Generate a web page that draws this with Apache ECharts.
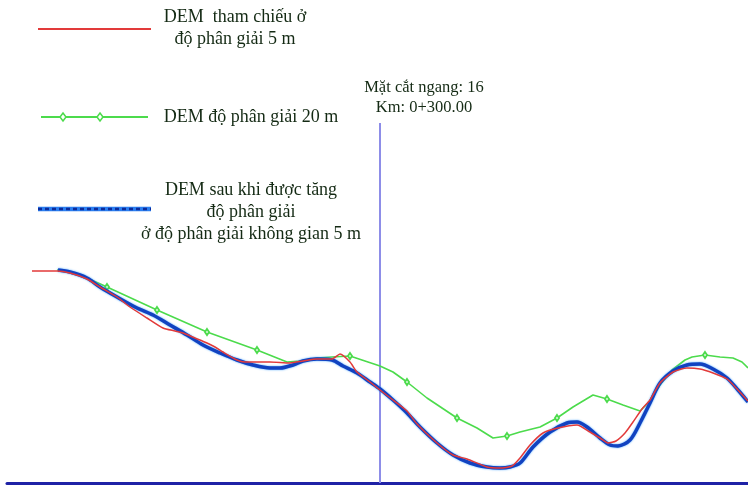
<!DOCTYPE html>
<html>
<head>
<meta charset="utf-8">
<script src="https://cdn.jsdelivr.net/npm/echarts@6/dist/echarts.min.js"></script>
<style>
  html, body { margin: 0; padding: 0; background: #fff; }
  #chart { width: 748px; height: 485px; }
</style>
</head>
<body>
<div id="chart"></div>
<script>
// Cross-section profile 16 (Km 0+300.00): distance along the section vs. elevation
const refName = 'DEM tham chiếu ở độ phân giải 5 m';
const lowName = 'DEM độ phân giải 20 m';
const upName = 'DEM sau khi được tăng độ phân giải ở độ phân giải không gian 5 m';

// Reference DEM, 5 m resolution
const refX = [25, 50, 63, 80, 93, 110, 123, 140, 156, 168, 176, 188, 200, 208, 216, 230, 238, 246, 263, 283, 296, 310, 325, 333, 343, 350, 363, 373, 386, 400, 410, 430, 446, 460, 480, 493, 505, 513, 523, 536, 551, 570, 583, 593, 601, 609, 618, 626, 635, 643, 653, 666, 680, 693, 706, 720, 731, 741];
const refY = [212, 212, 210, 204, 196, 186, 176, 165, 155, 152, 150, 145, 140, 136, 131, 123, 121, 121, 121, 120, 122, 124, 124, 129, 121, 111, 101, 93, 83, 72, 59, 40, 28, 24, 16, 15, 17, 25, 38, 50, 55, 58, 51, 45, 40, 42, 50, 61, 74, 83, 100, 111, 115, 114, 110, 104, 93, 82];

// Coarse DEM, 20 m resolution
const lowX = [50, 63, 80, 100, 150, 200, 250, 280, 293, 310, 325, 343, 373, 386, 400, 420, 450, 470, 486, 500, 513, 533, 550, 566, 586, 600, 616, 633, 643, 653, 665, 678, 685, 698, 713, 726, 735, 741];
const lowY = [213, 211, 205, 196, 173, 151, 133, 121, 122, 125, 126, 127, 117, 111, 101, 85, 65, 55, 45, 47, 51, 56, 65, 76, 88, 84, 78, 72, 82, 98, 113, 123, 126, 128, 126, 125, 121, 115];
// Grid nodes of the 20 m DEM that carry a marker
const lowNodes = [100, 150, 200, 250, 343, 400, 450, 500, 550, 600, 698];

// Upsampled DEM, 5 m spatial resolution
const upX = [51, 63, 80, 93, 110, 130, 146, 163, 180, 196, 213, 230, 246, 263, 273, 286, 296, 310, 325, 336, 350, 363, 373, 386, 400, 413, 430, 446, 463, 480, 493, 503, 513, 526, 543, 560, 570, 580, 593, 603, 611, 623, 633, 643, 653, 666, 680, 693, 706, 720, 731, 741];
const upY = [213, 211, 205, 196, 186, 175, 168, 158, 148, 138, 130, 123, 118, 115, 115, 118, 122, 124, 123, 117, 110, 101, 94, 83, 70, 56, 40, 28, 20, 16, 15, 16, 20, 36, 51, 60, 61, 56, 45, 38, 37, 43, 60, 80, 100, 112, 118, 119, 114, 105, 93, 81];

// Section position
const sectionX = 373;
const sectionLabel = 'Mặt cắt ngang: 16\nKm: 0+300.00';

const zip = (xs, ys) => xs.map((x, i) => [x, ys[i]]);

const serif = '"Liberation Serif", "DejaVu Serif", serif';
const textColor = '#142a14';
const redColor = '#e23a3a';
const greenColor = '#4cdb4c';
const blueColor = '#1242c0';

const chart = echarts.init(document.getElementById('chart'));

function legendText(lines, cx, cy) {
  return lines.map((t, i) => ({
    type: 'text',
    x: cx,
    y: cy + i * 22,
    style: {
      text: t, fill: textColor, font: '18px ' + serif,
      align: 'center', verticalAlign: 'middle'
    }
  }));
}

const legendGraphics = [
  // reference DEM
  { type: 'line', shape: { x1: 38, y1: 29, x2: 151, y2: 29 }, style: { stroke: redColor, lineWidth: 2 } },
  ...legendText(['DEM  tham chiếu ở', 'độ phân giải 5 m'], 235, 17),
  // 20 m DEM
  { type: 'line', shape: { x1: 41, y1: 117, x2: 148, y2: 117 }, style: { stroke: greenColor, lineWidth: 2 } },
  { type: 'polygon', shape: { points: [[63, 113], [66, 117], [63, 121], [60, 117]] }, style: { fill: '#fff', stroke: greenColor, lineWidth: 1.5 } },
  { type: 'polygon', shape: { points: [[100, 113], [103, 117], [100, 121], [97, 117]] }, style: { fill: '#fff', stroke: greenColor, lineWidth: 1.5 } },
  ...legendText(['DEM độ phân giải 20 m'], 251, 117),
  // upsampled DEM
  { type: 'line', shape: { x1: 38, y1: 209, x2: 151, y2: 209 }, style: { stroke: '#2a7ef0', lineWidth: 4.5 } },
  { type: 'line', shape: { x1: 38, y1: 209, x2: 151, y2: 209 }, style: { stroke: '#0d2c9c', lineWidth: 2.5, lineDash: [4, 3] } },
  ...legendText(['DEM sau khi được tăng', 'độ phân giải', 'ở độ phân giải không gian 5 m'], 251, 190)
];

chart.setOption({
  animation: false,
  backgroundColor: '#ffffff',
  grid: { left: 7, right: 0, top: 123, bottom: 2 },
  xAxis: {
    type: 'value', min: 0, max: 741,
    axisLine: { show: true, onZero: false, lineStyle: { color: '#1f22a6', width: 3 } },
    axisTick: { show: false }, axisLabel: { show: false }, splitLine: { show: false }
  },
  yAxis: {
    type: 'value', min: 0, max: 360, show: false, splitLine: { show: false }
  },
  graphic: legendGraphics,
  series: [
    {
      name: lowName, type: 'line', z: 2,
      data: zip(lowX, lowY),
      symbol: 'emptyDiamond',
      symbolSize: (v) => lowNodes.includes(v[0]) ? [4, 6] : 0,
      showAllSymbol: true,
      itemStyle: { color: greenColor, borderWidth: 1.2 },
      lineStyle: { color: greenColor, width: 1.6 }
    },
    {
      name: upName, type: 'line', z: 3,
      data: zip(upX, upY),
      symbol: 'none', smooth: 0.3,
      lineStyle: { color: blueColor, width: 3.5, shadowColor: 'rgba(40,150,255,0.9)', shadowBlur: 2 }
    },
    {
      name: refName, type: 'line', z: 4,
      data: zip(refX, refY),
      symbol: 'none', smooth: 0.2,
      lineStyle: { color: redColor, width: 1.5 },
      markLine: {
        silent: true, symbol: 'none', z: 1,
        lineStyle: { color: '#8d8de8', width: 2, type: 'solid' },
        label: {
          position: 'end', formatter: sectionLabel,
          fontFamily: serif, fontSize: 16.5, lineHeight: 20, color: textColor,
          padding: [0, 0, 0, 88]
        },
        data: [{ xAxis: sectionX }]
      }
    }
  ]
});
</script>
</body>
</html>
